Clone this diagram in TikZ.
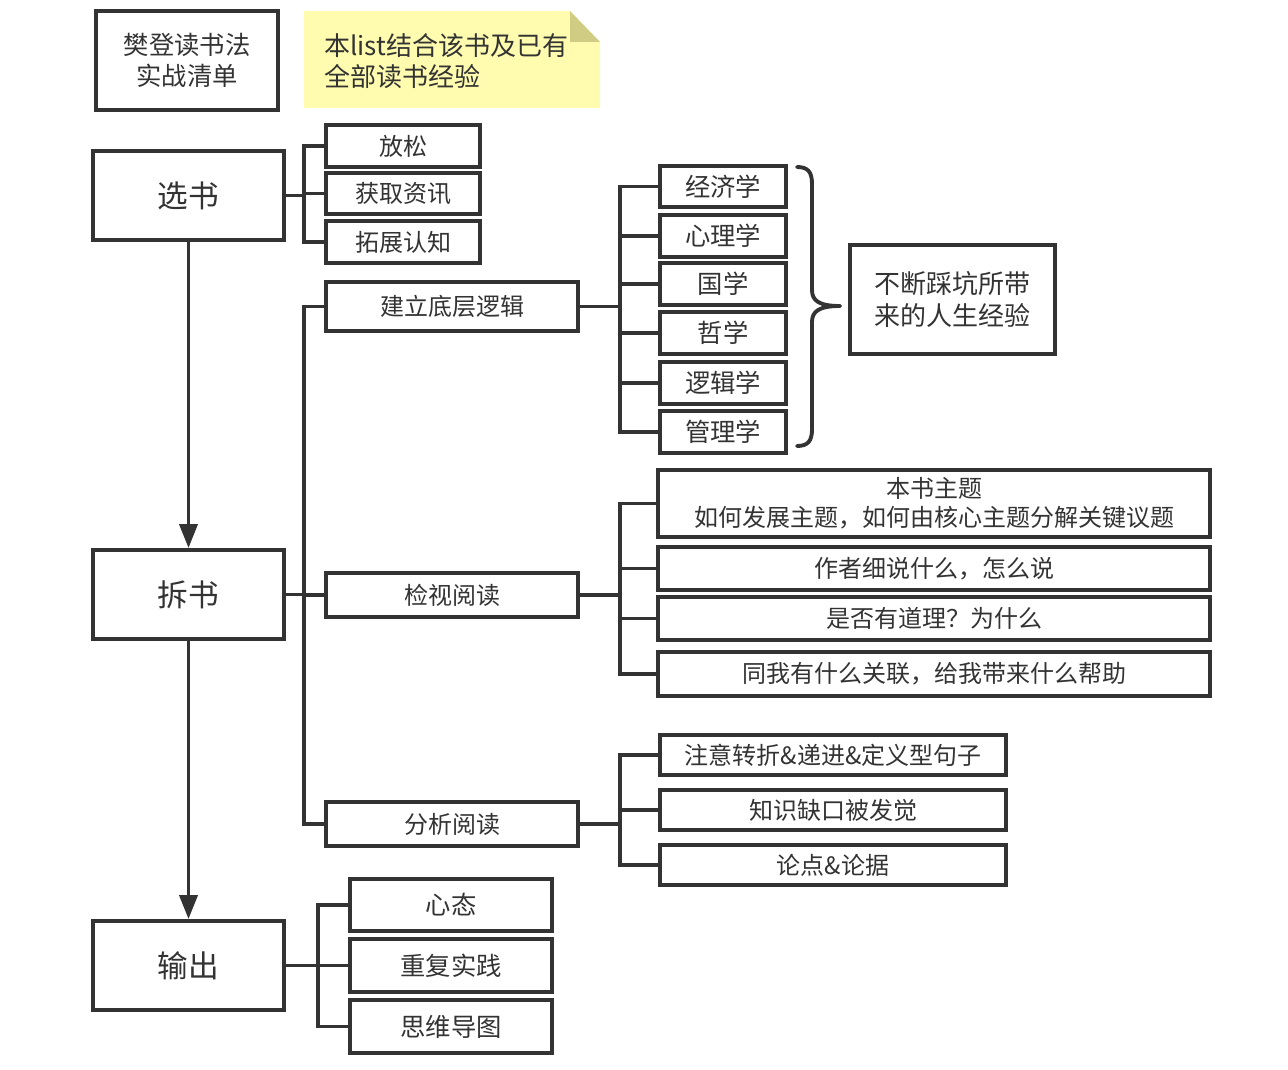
\documentclass[tikz,border=0pt]{standalone}
\usepackage{fontspec}
\setmainfont{Noto Sans CJK SC}
\usetikzlibrary{arrows.meta}
\definecolor{ink}{HTML}{333333}
\definecolor{notefill}{RGB}{255,252,176}
\definecolor{notefold}{RGB}{208,204,132}
\tikzset{
  bxs/.style={draw=ink, line width=2.9pt, fill=white, inner sep=0pt, align=center, text=ink, line join=miter},
  conn/.style={draw=ink, line width=2.9pt, line join=miter},
  arr/.style={draw=ink, line width=2.9pt, -{Triangle[length=18pt,width=13.5pt]}},
  fmain/.style={font=\fontsize{23}{28}\selectfont},
  fsub/.style={font=\fontsize{18}{22}\selectfont},
  fsubb/.style={font=\fontsize{19}{23}\selectfont},
}
\begin{document}
\begin{tikzpicture}[x=0.75pt,y=-0.75pt]
\useasboundingbox (0,0) rectangle (1288,1070);
% title
\node[bxs, minimum width=136.5pt, minimum height=74.25pt, font=\fontsize{19}{23}\selectfont] (title) at (187,60.5) {樊登读书法\\实战清单};
% note
\fill[notefill] (304,11) -- (570,11) -- (600,42) -- (600,108) -- (304,108) -- cycle;
\fill[notefold] (570,11) -- (600,42) -- (570,42) -- cycle;
\node[anchor=west, align=left, inner sep=0pt, text=ink, font=\fontsize{19.5}{23.5}\selectfont] (note) at (324,61) {本list结合该书及已有\\全部读书经验};
% main nodes
\node[bxs, fmain, minimum width=143.25pt, minimum height=66.75pt] (xs) at (188.5,195.5) {选书};
\node[bxs, fmain, minimum width=143.25pt, minimum height=66.75pt] (cs) at (188.5,594.5) {拆书};
\node[bxs, fmain, minimum width=143.25pt, minimum height=66.75pt] (sc) at (188.5,965.5) {输出};
% 选书 children
\node[bxs, fsub, minimum width=115.5pt, minimum height=31.5pt] (fs) at (403,146) {放松};
\node[bxs, fsub, minimum width=115.5pt, minimum height=30.75pt] (hq) at (403,193.5) {获取资讯};
\node[bxs, fsub, minimum width=115.5pt, minimum height=31.5pt] (tz) at (403,242) {拓展认知};
% 拆书 children
\node[bxs, fsub, minimum width=189pt, minimum height=36.75pt] (jl) at (452,306.5) {建立底层逻辑};
\node[bxs, fsub, minimum width=189pt, minimum height=33pt] (js) at (452,595) {检视阅读};
\node[bxs, fsub, minimum width=189pt, minimum height=33pt] (fx) at (452,824) {分析阅读};
% 建立底层逻辑 children
\node[bxs, fsubb, minimum width=94.5pt, minimum height=30.75pt] (k1) at (723,186.5) {经济学};
\node[bxs, fsubb, minimum width=94.5pt, minimum height=31.5pt] (k2) at (723,236) {心理学};
\node[bxs, fsubb, minimum width=94.5pt, minimum height=31.5pt] (k3) at (723,284) {国学};
\node[bxs, fsubb, minimum width=94.5pt, minimum height=31.5pt] (k4) at (723,333) {哲学};
\node[bxs, fsubb, minimum width=94.5pt, minimum height=31.5pt] (k5) at (723,383) {逻辑学};
\node[bxs, fsubb, minimum width=94.5pt, minimum height=31.5pt] (k6) at (723,432) {管理学};
\node[bxs, font=\fontsize{19.5}{24}\selectfont, minimum width=153.75pt, minimum height=81.75pt] (exp) at (952.5,299.5) {不断踩坑所带\\来的人生经验};
% 检视阅读 children
\node[bxs, fsub, minimum width=414pt, minimum height=50.25pt] (v1) at (934,503.5) {本书主题\\如何发展主题，如何由核心主题分解关键议题};
\node[bxs, fsub, minimum width=414pt, minimum height=32.25pt] (v2) at (934,568.5) {作者细说什么，怎么说};
\node[bxs, fsub, minimum width=414pt, minimum height=32.25pt] (v3) at (934,618.5) {是否有道理？为什么};
\node[bxs, fsub, minimum width=414pt, minimum height=33pt] (v4) at (934,674) {同我有什么关联，给我带来什么帮助};
% 分析阅读 children
\node[bxs, fsub, minimum width=259.5pt, minimum height=30pt] (a1) at (833,755) {注意转折\&递进\&定义型句子};
\node[bxs, fsub, minimum width=259.5pt, minimum height=30pt] (a2) at (833,810) {知识缺口被发觉};
\node[bxs, fsub, minimum width=259.5pt, minimum height=30pt] (a3) at (833,865) {论点\&论据};
% 输出 children
\node[bxs, fsubb, minimum width=151.5pt, minimum height=39pt] (o1) at (451,905) {心态};
\node[bxs, fsubb, minimum width=151.5pt, minimum height=39.75pt] (o2) at (451,965.5) {重复实践};
\node[bxs, fsubb, minimum width=151.5pt, minimum height=39.75pt] (o3) at (451,1026.5) {思维导图};
% junction coordinates
\coordinate (j1) at (304,0);
\coordinate (j2) at (620,0);
\coordinate (j3) at (318,0);
% arrows
\draw[arr] (xs.south) -- (cs.north);
\draw[arr] (cs.south) -- (sc.north);
% 选书 tree
\draw[conn] (xs.east) -- (xs.east -| j1);
\draw[conn] (fs.west) -- (fs.west -| j1) -- (tz.west -| j1) -- (tz.west);
\draw[conn] (hq.west -| j1) -- (hq.west);
% 拆书 tree
\draw[conn] (cs.east) -- (cs.east -| j1);
\draw[conn] (jl.west) -- (jl.west -| j1) -- (fx.west -| j1) -- (fx.west);
\draw[conn] (js.west -| j1) -- (js.west);
% 建立底层逻辑 tree
\draw[conn] (jl.east) -- (jl.east -| j2);
\draw[conn] (k1.west) -- (k1.west -| j2) -- (k6.west -| j2) -- (k6.west);
\foreach \n in {k2,k3,k4,k5} \draw[conn] (\n.west -| j2) -- (\n.west);
% 检视阅读 tree
\draw[conn] (js.east) -- (js.east -| j2);
\draw[conn] (v1.west) -- (v1.west -| j2) -- (v4.west -| j2) -- (v4.west);
\foreach \n in {v2,v3} \draw[conn] (\n.west -| j2) -- (\n.west);
% 分析阅读 tree
\draw[conn] (fx.east) -- (fx.east -| j2);
\draw[conn] (a1.west) -- (a1.west -| j2) -- (a3.west -| j2) -- (a3.west);
\draw[conn] (a2.west -| j2) -- (a2.west);
% 输出 tree
\draw[conn] (sc.east) -- (sc.east -| j3);
\draw[conn] (o1.west) -- (o1.west -| j3) -- (o3.west -| j3) -- (o3.west);
\draw[conn] (o2.west -| j3) -- (o2.west);
% brace
\draw[conn, line cap=round] (797,167) .. controls (808,167) and (812,172) .. (812,184) -- (812,290) .. controls (812,300) and (818,306) .. (840,306);
\draw[conn, line cap=round] (797,446) .. controls (808,446) and (812,441) .. (812,429) -- (812,322) .. controls (812,312) and (818,306) .. (840,306);
\end{tikzpicture}
\end{document}
